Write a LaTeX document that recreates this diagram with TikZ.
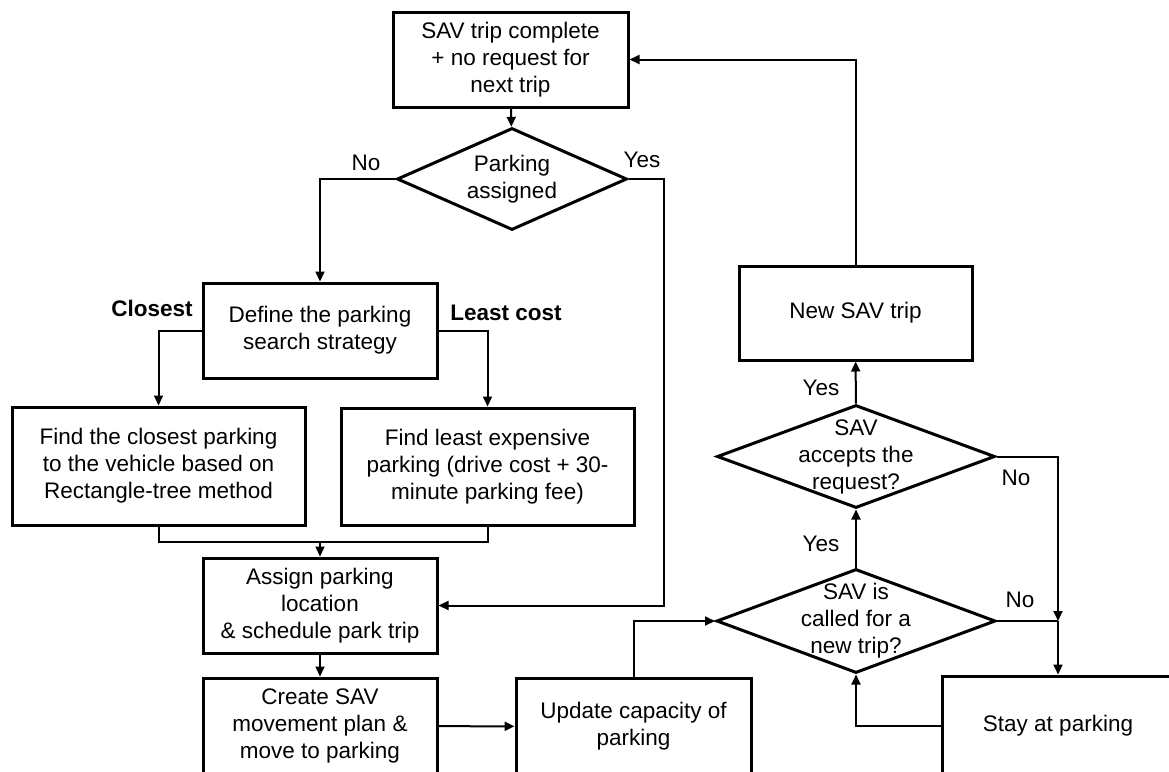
\documentclass[tikz,border=0pt]{standalone}
\usepackage{fontspec}
\setmainfont{Liberation Sans}
\usetikzlibrary{arrows.meta,shapes.geometric}

\begin{document}
\begin{tikzpicture}[x=1pt,y=-1pt,
  every node/.style={font=\fontsize{22.5}{27}\selectfont},
  box/.style 2 args={draw,line width=3pt,inner sep=0pt,align=center,minimum width=#1,minimum height=#2},
  decision/.style 2 args={draw,diamond,line width=3pt,inner sep=0pt,minimum width=#1,minimum height=#2},
  txt/.style={align=center,inner sep=0pt},
  conn/.style={line width=2pt},
  arr/.style={conn,-{Triangle[length=10pt,width=9pt]}}]
  \clip (0,0) rectangle (1169,771);
  % left column
  \node[box={235pt}{95pt}] (done) at (510.5,59.5) {SAV trip complete\\+ no request for\\next trip};
  \node[decision={230pt}{102pt}] (assigned) at (512,179) {};
  \node[txt] (assignedt) at (assigned) {Parking\\assigned};
  \node[box={234pt}{95pt}] (strategy) at (320,330.5) {Define the parking\\search strategy};
  \node[box={293pt}{118pt}] (closest) at (158.5,466) {Find the closest parking\\to the vehicle based on\\Rectangle-tree method};
  \node[box={293pt}{117pt}] (cheapest) at (487.5,466.5) {Find least expensive\\parking (drive cost + 30-\\minute parking fee)};
  \node[box={234pt}{95pt}] (assign) at (320,605.5) {Assign parking\\location\\\& schedule park trip};
  \node[box={234pt}{96pt}] (create) at (320,726) {Create SAV\\movement plan \&\\move to parking};
  \node[box={235pt}{97pt}] (update) at (633.5,726.5) {Update capacity of\\parking};
  % right column
  \node[decision={279pt}{104pt}] (called) at (856,621) {};
  \node[txt] (calledt) at (called) {SAV is\\called for a\\new trip?};
  \node[decision={278pt}{103pt}] (accepts) at (856,456.5) {};
  \node[txt] (acceptst) at (accepts) {SAV\\accepts the\\request?};
  \node[box={233pt}{94pt}] (newtrip) at (855.5,313) {New SAV trip};
  \node[box={232pt}{100pt}] (stay) at (1058,726) {Stay at parking};
  % branch labels
  \node (noA) at (366,163) {No};
  \node (yesA) at (642,160) {Yes};
  \node[font=\fontsize{22.5}{27}\selectfont\bfseries] (byclose) at (152,308) {Closest};
  \node[font=\fontsize{22.5}{27}\selectfont\bfseries] (bycost) at (506,313) {Least cost};
  \node (yesB) at (821,544) {Yes};
  \node (yesC) at (821,388) {Yes};
  \node (noB) at (1016,478) {No};
  \node (noC) at (1020,600) {No};
  \coordinate (join) at (320,542);
  \coordinate (merge) at (1058,621);
  % connectors
  \draw[arr] (done) -- (assigned);
  \draw[arr] (assigned.west) -| (strategy.north);
  \draw[arr] (assigned.east) -- ++(35,0) |- (assign.east);
  \draw[arr] (strategy.west) -| (closest.north);
  \draw[arr] (strategy.east) -| (cheapest.north);
  \draw[conn] (closest.south) |- (join) -| (cheapest.south);
  \draw[arr] (join) -- (assign.north);
  \draw[arr] (assign) -- (create);
  \draw[arr] (create) -- (update);
  \draw[arr] (update.north) |- (called.west);
  \draw[arr] (stay.west) -| (called.south);
  \draw[arr] (called) -- (accepts);
  \draw[arr] (accepts) -- (newtrip);
  \draw[arr] (newtrip.north) |- (done.east);
  \draw[arr] (accepts.east) -| (merge);
  \draw[conn] (called.east) -- (merge);
  \draw[arr] (merge) -- (stay.north);
\end{tikzpicture}
\end{document}
